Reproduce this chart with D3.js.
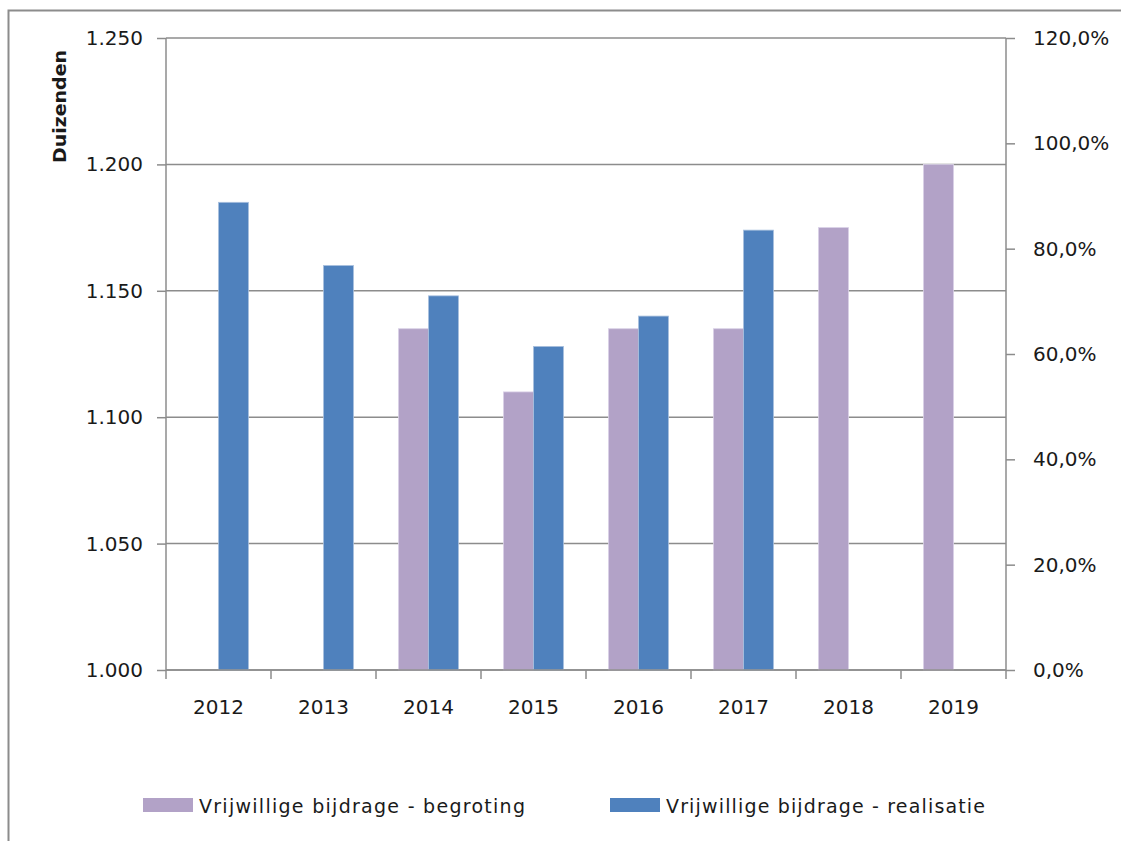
<!DOCTYPE html>
<html>
<head>
<meta charset="utf-8">
<script src="https://cdnjs.cloudflare.com/ajax/libs/d3/7.8.5/d3.min.js"></script>
<style>
  body { margin: 0; background: #fff; }
  text { font-family: "DejaVu Sans", Verdana, sans-serif; fill: #1a1a1a; }
</style>
</head>
<body>
<script>
// data
var years = ['2012', '2013', '2014', '2015', '2016', '2017', '2018', '2019'];
var begroting = [null, null, 1135, 1110, 1135, 1135, 1175, 1200];
var realisatie = [1185, 1160, 1148, 1128, 1140, 1174, null, null];
var leftTicks = [1000, 1050, 1100, 1150, 1200, 1250];
var rightTicks = [0, 0.2, 0.4, 0.6, 0.8, 1.0, 1.2];
var seriesNames = ['Vrijwillige bijdrage - begroting', 'Vrijwillige bijdrage - realisatie'];
var seriesColors = ['#b2a2c7', '#4f81bd'];

var W = 1121, H = 841;
var plot = { left: 166, right: 1006, top: 38, bottom: 670 };
var gray = '#8c8c8c';

var svg = d3.select('body').append('svg')
    .attr('width', W)
    .attr('height', H);

// outer chart border (only left + top visible in the picture)
svg.append('rect')
    .attr('x', 8.5).attr('y', 10.5)
    .attr('width', W + 20).attr('height', H + 20)
    .attr('fill', '#fff')
    .attr('stroke', gray)
    .attr('stroke-width', 2);

var x = d3.scaleBand().domain(years).range([plot.left, plot.right]);
var y = d3.scaleLinear().domain([1000, 1250]).range([plot.bottom, plot.top]);
var y2 = d3.scaleLinear().domain([0, 1.2]).range([plot.bottom, plot.top]);

var barW = x.bandwidth() * 30 / 105;

// gridlines
svg.append('g').selectAll('line')
    .data(leftTicks)
    .enter().append('line')
    .attr('x1', plot.left).attr('x2', plot.right)
    .attr('y1', function(d) { return y(d); })
    .attr('y2', function(d) { return y(d); })
    .attr('stroke', gray)
    .attr('stroke-width', 1.5);

// bars
var seriesData = [begroting, realisatie];
seriesData.forEach(function(vals, si) {
    svg.append('g').selectAll('rect')
        .data(years.map(function(yr, i) { return { yr: yr, v: vals[i] }; })
            .filter(function(d) { return d.v !== null; }))
        .enter().append('rect')
        .attr('x', function(d) { return x(d.yr) + x.bandwidth() / 2 + (si - 1) * barW; })
        .attr('y', function(d) { return y(d.v); })
        .attr('width', barW)
        .attr('height', function(d) { return plot.bottom - y(d.v); })
        .attr('fill', seriesColors[si])
        .attr('stroke', si == 0 ? '#d9d0e6' : '#a9c0de')
        .attr('stroke-width', 0.8);
});

function styleAxis(g) {
    g.selectAll('.tick line').attr('stroke', gray).attr('stroke-width', 1.5);
    g.selectAll('.tick text').style('font-size', '20px').attr('fill', '#1a1a1a');
}

// left axis
var leftAxis = svg.append('g')
    .attr('transform', 'translate(' + plot.left + ',0)')
    .call(d3.axisLeft(y).tickValues(leftTicks).tickSize(9).tickPadding(14)
        .tickFormat(function(d) { return d3.format('.3f')(d / 1000); }));
leftAxis.select('.domain').attr('stroke', gray).attr('stroke-width', 1.5)
    .attr('d', 'M0,' + plot.top + 'V' + plot.bottom);
styleAxis(leftAxis);

// right axis
var rightAxis = svg.append('g')
    .attr('transform', 'translate(' + plot.right + ',0)')
    .call(d3.axisRight(y2).tickValues(rightTicks).tickSize(9).tickPadding(18)
        .tickFormat(function(d) { return d3.format('.1f')(d * 100).replace('.', ',') + '%'; }));
rightAxis.select('.domain').attr('stroke', gray).attr('stroke-width', 1.5)
    .attr('d', 'M0,' + plot.top + 'V' + plot.bottom);
styleAxis(rightAxis);

// x axis
var xAxis = svg.append('g')
    .attr('transform', 'translate(0,' + plot.bottom + ')')
    .call(d3.axisBottom(x).tickSize(0).tickPadding(30));
xAxis.select('.domain').attr('stroke', gray).attr('stroke-width', 1.5)
    .attr('d', 'M' + plot.left + ',0H' + plot.right);
styleAxis(xAxis);
// category boundary ticks
svg.append('g').selectAll('line')
    .data(years.concat(['end']))
    .enter().append('line')
    .attr('x1', function(d, i) { return plot.left + i * x.bandwidth(); })
    .attr('x2', function(d, i) { return plot.left + i * x.bandwidth(); })
    .attr('y1', plot.bottom)
    .attr('y2', plot.bottom + 9)
    .attr('stroke', gray)
    .attr('stroke-width', 1.5);

// axis title
svg.append('text')
    .attr('transform', 'translate(66,163) rotate(-90)')
    .attr('text-anchor', 'start')
    .attr('textLength', 113)
    .attr('lengthAdjust', 'spacingAndGlyphs')
    .style('font-size', '17px')
    .style('font-weight', 'bold')
    .attr('fill', '#000')
    .text('Duizenden');

// legend
var legendX = [143, 610];
var legendLen = [326, 319];
seriesNames.forEach(function(name, i) {
    svg.append('rect')
        .attr('x', legendX[i]).attr('y', 798)
        .attr('width', 50).attr('height', 14)
        .attr('fill', seriesColors[i]);
    svg.append('text')
        .attr('x', legendX[i] + 56).attr('y', 813)
        .attr('textLength', legendLen[i])
        .attr('lengthAdjust', 'spacing')
        .style('font-size', '19px')
        .text(name);
});
</script>
</body>
</html>
